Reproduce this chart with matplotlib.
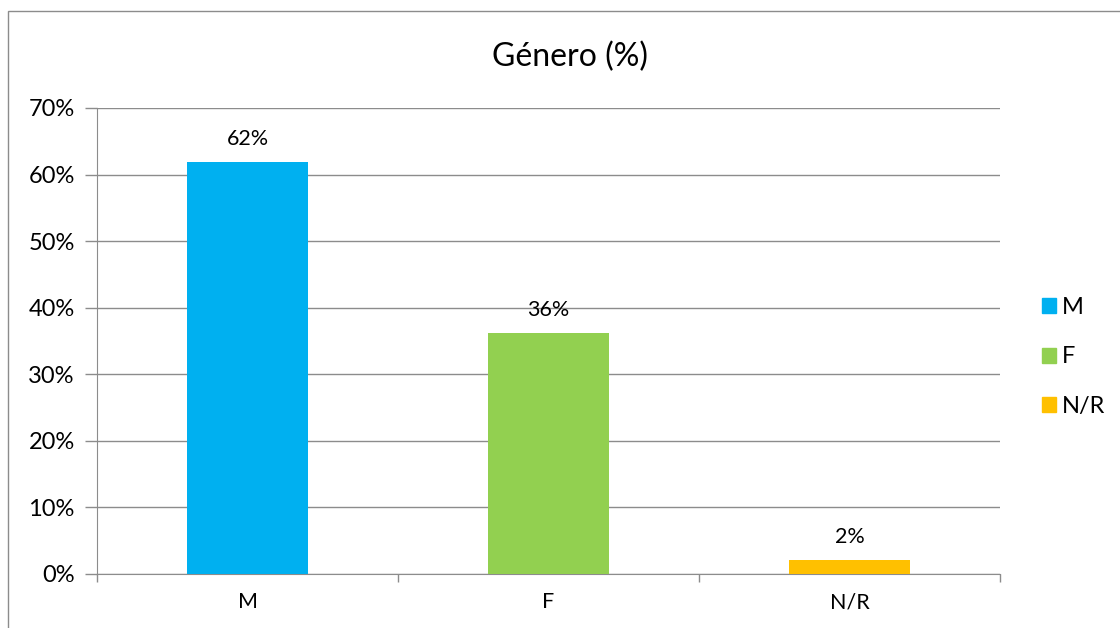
import matplotlib.pyplot as plt
import matplotlib.patches as patches

categories = ["M", "F", "N/R"]
values = [0.619, 0.362, 0.021]
labels = ["62%", "36%", "2%"]
colors = ["#00B0F0", "#92D050", "#FFC000"]
yticks = [0, 0.1, 0.2, 0.3, 0.4, 0.5, 0.6, 0.7]

plt.rcParams["font.family"] = ["Lato", "DejaVu Sans"]

fig = plt.figure(figsize=(11.2, 6.28), dpi=100)
ax = fig.add_axes([97 / 1120, 1 - 574 / 628, 903 / 1120, 466 / 628])

x = list(range(len(categories)))
bars = ax.bar(x, values, width=0.4, color=colors, zorder=3)

for b, lab in zip(bars, labels):
    ax.text(b.get_x() + b.get_width() / 2, b.get_height() + 0.02, lab,
            ha="center", va="bottom", fontsize=15.5)

ax.set_xlim(-0.5, 2.5)
ax.set_ylim(0, 0.7)
ax.set_yticks(yticks)
ax.set_yticklabels([f"{int(round(t * 100))}%" for t in yticks], fontsize=17)
ax.yaxis.grid(True, color="#8c8c8c", linewidth=1, zorder=0)

# category labels centered, tick marks at the boundaries
ax.set_xticks([-0.5, 0.5, 1.5, 2.5])
ax.set_xticklabels([])
ax.set_xticks(x, minor=True)
ax.set_xticklabels(categories, minor=True, fontsize=15.5)
ax.tick_params(axis="x", which="major", length=6, color="#8c8c8c", width=1)
ax.tick_params(axis="x", which="minor", length=0, pad=13)
ax.tick_params(axis="y", length=9, color="#8c8c8c", width=1, pad=7)

for side in ["top", "right"]:
    ax.spines[side].set_visible(False)
ax.spines["left"].set_color("#8c8c8c")
ax.spines["bottom"].set_color("#8c8c8c")

fig.text(570 / 1120, 1 - 57 / 628, "Género (%)", ha="center", va="center",
         fontsize=23)

handles = [patches.Patch(color=c) for c in colors]
fig.legend(handles, categories, loc="center left",
           bbox_to_anchor=(1021 / 1120, 1 - 357 / 628), frameon=False,
           fontsize=17, handlelength=0.6, handleheight=0.6,
           handletextpad=0.25, labelspacing=1.2)

fig.patches.append(patches.Rectangle((8 / 1120, -0.1), 1.2, (628 - 11) / 628 + 0.1,
                                     transform=fig.transFigure, fill=False,
                                     edgecolor="#8c8c8c", linewidth=1))

fig.savefig("out.png", dpi=100)
